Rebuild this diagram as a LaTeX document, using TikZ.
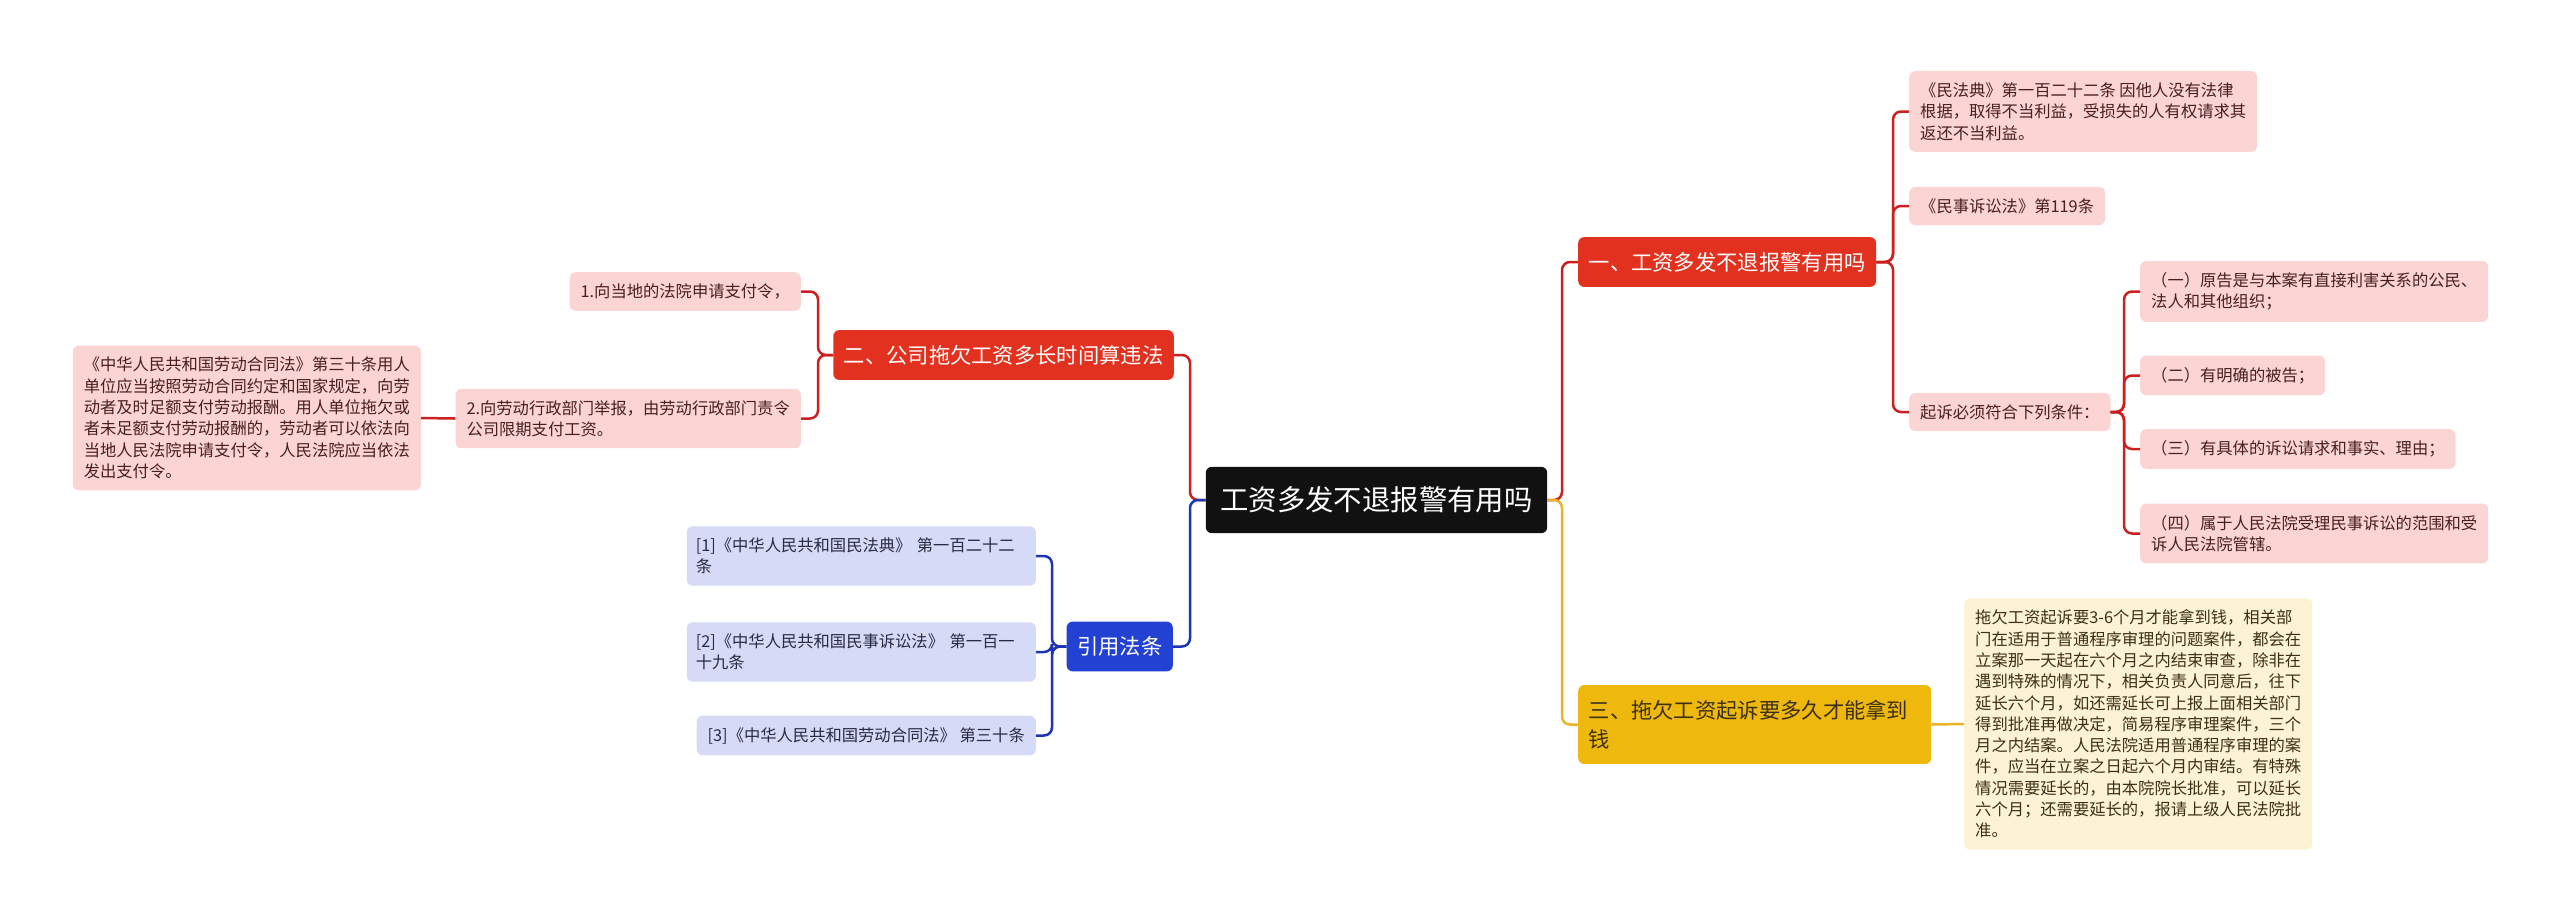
\documentclass[tikz,border=0pt]{standalone}
\usepackage{fontspec}
\setmainfont{Noto Sans CJK SC}
\definecolor{rootc}{HTML}{111111}
\definecolor{redc}{HTML}{E2321F}
\definecolor{redl}{HTML}{CC1F1F}
\definecolor{pinkc}{HTML}{FAD5D4}
\definecolor{pinkt}{HTML}{4A1E1E}
\definecolor{yelc}{HTML}{EFB80C}
\definecolor{yell}{HTML}{E9B428}
\definecolor{yelfc}{HTML}{FCF2D4}
\definecolor{yelt}{HTML}{3B3014}
\definecolor{bluec}{HTML}{2341D2}
\definecolor{bluel}{HTML}{1D35B5}
\definecolor{bluefc}{HTML}{D5DAF6}
\definecolor{bluet}{HTML}{2A2A40}
\begin{document}
\begin{tikzpicture}[
	x=1pt, y=-1pt,
	root/.style={ fill=rootc, text=white, rounded corners=6pt, inner xsep=14.5pt, inner ysep=20pt, font=\fontsize{28.4}{34}\selectfont },
	branchr/.style={ fill=redc, text=white, rounded corners=6pt, inner xsep=10.5pt, inner ysep=15pt, align=left, font=\fontsize{21.3}{29}\selectfont },
	branchy/.style={ branchr, fill=yelc, text=yelt },
	branchb/.style={ branchr, fill=bluec },
	leafr/.style={ fill=pinkc, text=pinkt, rounded corners=6pt, inner xsep=11pt, inner ysep=11.5pt, align=left, font=\fontsize{16.3}{21.3}\selectfont },
	leafy/.style={ leafr, fill=yelfc, text=yelt },
	leafb/.style={ leafr, fill=bluefc, text=bluet },
	linkr/.style={ draw=redl, line width=2.5pt, rounded corners=8pt },
	linky/.style={ linkr, draw=yell },
	linkb/.style={ linkr, draw=bluel }
]
\useasboundingbox (0,0) rectangle (2560,922);

\node at (1376.5,500) (root) [root] {工资多发不退报警有用吗};

% right side
\node at (1578,262) (b1) [branchr,anchor=west] {一、工资多发不退报警有用吗};
\node at (1909,111.5) (l1a) [leafr,anchor=west] {《民法典》第一百二十二条 因他人没有法律\\根据，取得不当利益，受损失的人有权请求其\\返还不当利益。};
\node at (1909,206) (l1b) [leafr,anchor=west] {《民事诉讼法》第119条};
\node at (1909,412) (l1c) [leafr,anchor=west] {起诉必须符合下列条件：};
\node at (2140,291.5) (s1) [leafr,anchor=west] {（一）原告是与本案有直接利害关系的公民、\\法人和其他组织；};
\node at (2140,375.5) (s2) [leafr,anchor=west] {（二）有明确的被告；};
\node at (2140,449) (s3) [leafr,anchor=west] {（三）有具体的诉讼请求和事实、理由；};
\node at (2140,533.5) (s4) [leafr,anchor=west] {（四）属于人民法院受理民事诉讼的范围和受\\诉人民法院管辖。};

\node at (1578,724.5) (b3) [branchy,anchor=west,text width=332pt] {三、拖欠工资起诉要多久才能拿到\\钱};
\node at (1964,724) (l3a) [leafy,anchor=west] {拖欠工资起诉要3-6个月才能拿到钱，相关部\\门在适用于普通程序审理的问题案件，都会在\\立案那一天起在六个月之内结束审查，除非在\\遇到特殊的情况下，相关负责人同意后，往下\\延长六个月，如还需延长可上报上面相关部门\\得到批准再做决定，简易程序审理案件，三个\\月之内结案。人民法院适用普通程序审理的案\\件，应当在立案之日起六个月内审结。有特殊\\情况需要延长的，由本院院长批准，可以延长\\六个月；还需要延长的，报请上级人民法院批\\准。};

% left side
\node at (1174,355) (b2) [branchr,anchor=east] {二、公司拖欠工资多长时间算违法};
\node at (801,291.5) (l2a) [leafr,anchor=east] {1.向当地的法院申请支付令，};
\node at (801,418.5) (l2b) [leafr,anchor=east] {2.向劳动行政部门举报，由劳动行政部门责令\\公司限期支付工资。};
\node at (421,418) (l2c) [leafr,anchor=east] {《中华人民共和国劳动合同法》第三十条用人\\单位应当按照劳动合同约定和国家规定，向劳\\动者及时足额支付劳动报酬。用人单位拖欠或\\者未足额支付劳动报酬的，劳动者可以依法向\\当地人民法院申请支付令，人民法院应当依法\\发出支付令。};

\node at (1173,646.5) (b4) [branchb,anchor=east] {引用法条};
\node at (1036,556) (r1) [leafb,anchor=east,inner xsep=9pt,text width=331pt] {[1]《中华人民共和国民法典》 第一百二十二\\条};
\node at (1036,652) (r2) [leafb,anchor=east,inner xsep=9pt,text width=331pt] {[2]《中华人民共和国民事诉讼法》 第一百一\\十九条};
\node at (1036,735.5) (r3) [leafb,anchor=east] {[3]《中华人民共和国劳动合同法》 第三十条};

% bus points
\coordinate (lbus) at (1190,500);
\coordinate (rbus) at (1562,500);
\coordinate (b1bus) at (1893,262);
\coordinate (l1cbus) at (2124,412);
\coordinate (b2bus) at (818,355);
\coordinate (b4bus) at (1052,646.5);

\draw[linkr] (root.west) -- (lbus) |- (b2.east);
\draw[linkb] (root.west) -- (lbus) |- (b4.east);
\draw[linkr] (root.east) -- (rbus) |- (b1.west);
\draw[linky] (root.east) -- (rbus) |- (b3.west);

\draw[linkr] (b1.east) -- (b1bus) |- (l1a.west);
\draw[linkr] (b1.east) -- (b1bus) |- (l1b.west);
\draw[linkr] (b1.east) -- (b1bus) |- (l1c.west);

\draw[linkr] (l1c.east) -- (l1cbus) |- (s1.west);
\draw[linkr] (l1c.east) -- (l1cbus) |- (s2.west);
\draw[linkr] (l1c.east) -- (l1cbus) |- (s3.west);
\draw[linkr] (l1c.east) -- (l1cbus) |- (s4.west);

\draw[linky] (b3.east) -- (l3a.west);

\draw[linkr] (b2.west) -- (b2bus) |- (l2a.east);
\draw[linkr] (b2.west) -- (b2bus) |- (l2b.east);
\draw[linkr] (l2b.west) -- (l2c.east);

\draw[linkb] (b4.west) -- (b4bus) |- (r1.east);
\draw[linkb] (b4.west) -- (b4bus) |- (r2.east);
\draw[linkb] (b4.west) -- (b4bus) |- (r3.east);

\end{tikzpicture}
\end{document}
